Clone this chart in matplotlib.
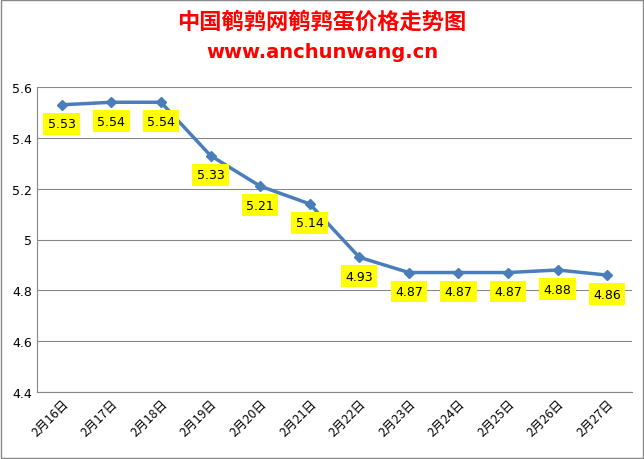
import matplotlib
matplotlib.use("Agg")
import matplotlib.pyplot as plt

plt.rcParams['font.family'] = ['Noto Sans CJK SC', 'DejaVu Sans']
dates = ["2月16日","2月17日","2月18日","2月19日","2月20日","2月21日","2月22日","2月23日","2月24日","2月25日","2月26日","2月27日"]
prices = [5.53,5.54,5.54,5.33,5.21,5.14,4.93,4.87,4.87,4.87,4.88,4.86]
yticks = [4.4,4.6,4.8,5,5.2,5.4,5.6]

fig = plt.figure(figsize=(6.44,4.60), dpi=100)
ax = fig.add_axes([37/644, 1-393/460, (632-37)/644, (393-88)/460])
x = range(len(dates))
ax.plot(x, prices, color='#4a7ebb', lw=2.5, marker='D', ms=5)
for i, v in enumerate(prices):
    ax.text(i, v-0.075, f"{v:.2f}", ha='center', va='center', fontsize=9, family='DejaVu Sans',
            bbox=dict(boxstyle='square,pad=0.35', fc='#ffff00', ec='none'))
ax.set_ylim(4.4, 5.6)
ax.set_xlim(-0.5, len(dates)-0.5)
ax.set_yticks(yticks)
ax.set_yticklabels(["4.4","4.6","4.8","5","5.2","5.4","5.6"], fontsize=9, family='DejaVu Sans')
ax.set_xticks(list(x))
ax.set_xticklabels(dates, rotation=45, ha='right', rotation_mode='anchor', fontsize=9)
ax.tick_params(length=0)
ax.grid(axis='y', color='#888888', lw=0.8)
ax.set_axisbelow(True)
for s in ['top','right']:
    ax.spines[s].set_visible(False)
ax.spines['left'].set_color('#888888')
ax.spines['bottom'].set_color('#888888')
fig.text(0.5, 1-22/460, "中国鹌鹑网鹌鹑蛋价格走势图", ha='center', va='center', color='#ff0000', fontsize=16, fontweight='bold')
fig.text(0.5, 1-53/460, "www.anchunwang.cn", ha='center', va='center', color='#ff0000', fontsize=14, fontweight='bold', family='DejaVu Sans')
fig.patches.append(plt.Rectangle((0.002,0.002),0.996,0.996, transform=fig.transFigure, fill=False, ec='#888888', lw=1))
fig.savefig("out.png", dpi=100)
